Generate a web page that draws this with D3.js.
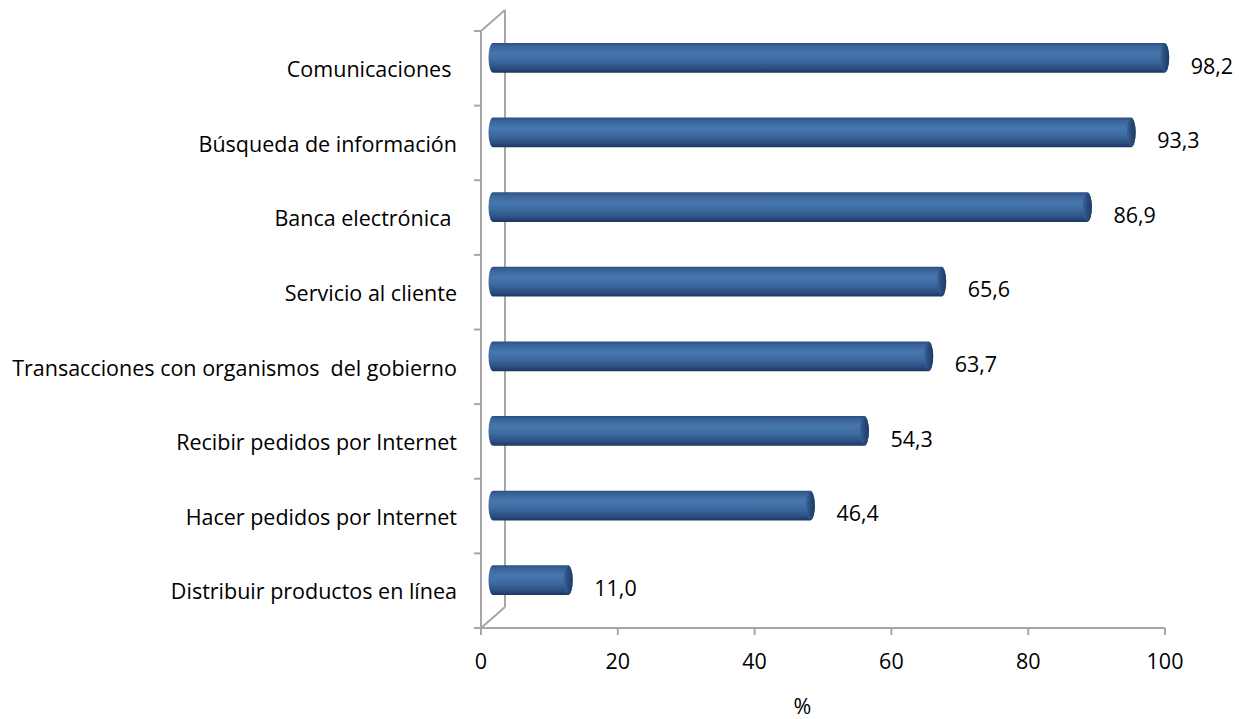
<!DOCTYPE html>
<html><head><meta charset="utf-8">
<script src="https://cdn.jsdelivr.net/npm/d3@7"></script>
<style>
html,body{margin:0;padding:0;background:#fff;}
text{font-family:"Open Sans","Liberation Sans",sans-serif;fill:#000;}
</style></head>
<body><svg id="chart" width="1239" height="719"></svg>
<script>
const categories = ["Comunicaciones ","Búsqueda de información","Banca electrónica ","Servicio al cliente","Transacciones con organismos  del gobierno","Recibir pedidos por Internet","Hacer pedidos por Internet","Distribuir productos en línea"];
const values = [98.2,93.3,86.9,65.6,63.7,54.3,46.4,11.0];
const valueLabels = ["98,2","93,3","86,9","65,6","63,7","54,3","46,4","11,0"];
const xTicks = [0,20,40,60,80,100];
const axisTitle = "%";

const svg = d3.select("#chart");
const x = d3.scaleLinear().domain([0,100]).range([481,1165]);
const y = d3.scaleBand().domain(categories).range([31,628]).padding(0);
const depthX = 24, depthY = -21;
const axisColor = "#a6a6a6";
const fs = 21.5;

const defs = svg.append("defs");
const g1 = defs.append("linearGradient").attr("id","cyl").attr("x1",0).attr("y1",0).attr("x2",0).attr("y2",1);
[[0,"#2b4f80"],[0.12,"#3a659c"],[0.35,"#4776ad"],[0.6,"#3d69a0"],[0.85,"#2b4f82"],[1,"#1d355c"]].forEach(([o,c])=>g1.append("stop").attr("offset",o).attr("stop-color",c));
const g2 = defs.append("linearGradient").attr("id","cap").attr("x1",0).attr("y1",0).attr("x2",1).attr("y2",0);
[[0,"#3a649a"],[0.5,"#2a4b7a"],[1,"#1f3a63"]].forEach(([o,c])=>g2.append("stop").attr("offset",o).attr("stop-color",c));

const ax = svg.append("g").attr("stroke",axisColor).attr("stroke-width",2).attr("fill","none");
ax.append("line").attr("x1",x(0)+depthX).attr("x2",x(0)+depthX).attr("y1",y.range()[0]+depthY).attr("y2",y.range()[1]+depthY);
ax.append("line").attr("x1",x(0)).attr("x2",x(0)+depthX).attr("y1",y.range()[0]).attr("y2",y.range()[0]+depthY);
ax.append("line").attr("x1",x(0)).attr("x2",x(0)+depthX).attr("y1",y.range()[1]).attr("y2",y.range()[1]+depthY);
ax.append("line").attr("x1",x(0)).attr("x2",x(0)).attr("y1",y.range()[0]).attr("y2",y.range()[1]);
ax.append("line").attr("x1",x(0)).attr("x2",x(100)).attr("y1",y.range()[1]).attr("y2",y.range()[1]);
const bounds = categories.map(c=>y(c)).concat([y.range()[1]]);
bounds.forEach(b=>ax.append("line").attr("x1",x(0)-7).attr("x2",x(0)).attr("y1",b).attr("y2",b));
xTicks.forEach(t=>ax.append("line").attr("x1",x(t)).attr("x2",x(t)).attr("y1",y.range()[1]).attr("y2",y.range()[1]+7));

const bh = y.bandwidth()*0.4;
const bars = svg.append("g");
categories.forEach((c,i)=>{
  const cy = y(c)+y.bandwidth()/2 + depthY/2;
  const x0 = x(0)+depthX/2, x1 = x(values[i])+depthX/2;
  const r = 4.5;
  const gg = bars.append("g");
  gg.append("path")
    .attr("d",`M${x0},${cy-bh/2} L${x1},${cy-bh/2} A${r},${bh/2} 0 0 1 ${x1},${cy+bh/2} L${x0},${cy+bh/2} A${r},${bh/2} 0 0 1 ${x0},${cy-bh/2} Z`)
    .attr("fill","url(#cyl)");
  gg.append("ellipse").attr("cx",x1).attr("cy",cy).attr("rx",r).attr("ry",bh/2-1).attr("fill","url(#cap)");
  svg.append("text").attr("x",x(values[i])+38).attr("y",cy+10)
    .attr("dominant-baseline","middle").attr("font-size",fs).text(valueLabels[i]);
  svg.append("text").attr("x",457).attr("y",y(c)+y.bandwidth()/2+3)
    .attr("text-anchor","end").attr("dominant-baseline","middle").attr("font-size",fs)
    .style("white-space","pre").text(c);
});

xTicks.forEach(t=>svg.append("text").attr("x",x(t)).attr("y",663).attr("text-anchor","middle")
  .attr("dominant-baseline","middle").attr("font-size",fs).text(t));
svg.append("text").attr("x",x(47)).attr("y",708).attr("text-anchor","middle").attr("dominant-baseline","middle")
  .attr("font-size",fs).text(axisTitle);
</script></body></html>
